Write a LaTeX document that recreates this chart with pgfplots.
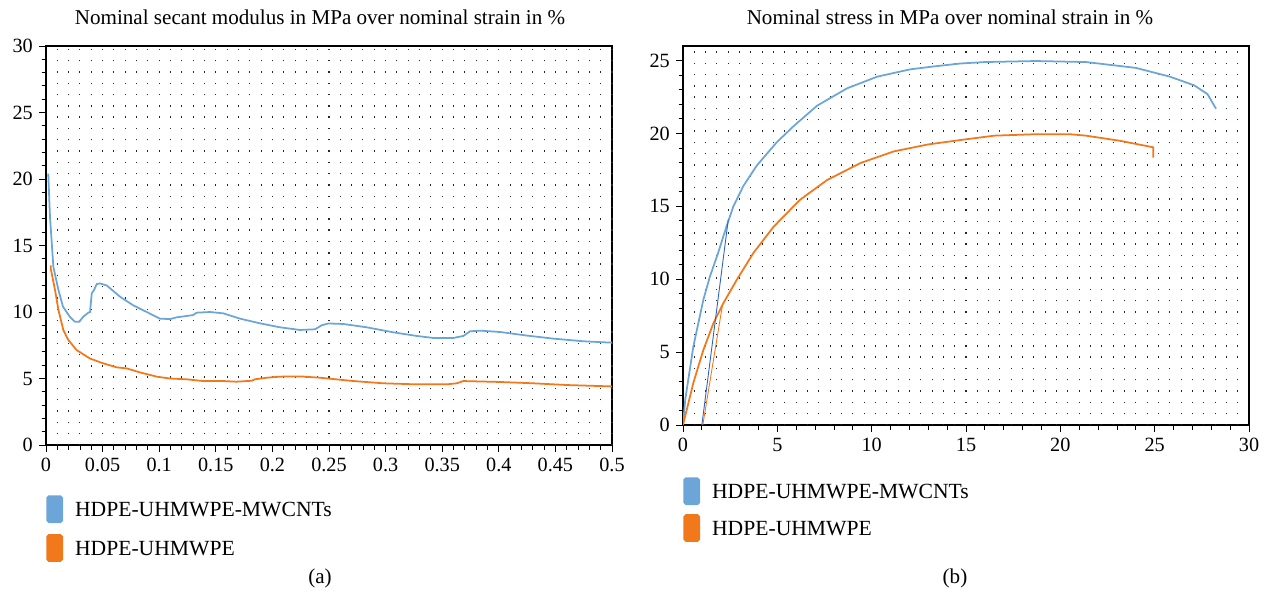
\documentclass[border=0pt]{standalone}
\usepackage{pgfplots}
\pgfplotsset{compat=1.18}
\usepackage{fontspec}
\setmainfont{Liberation Serif}

\definecolor{cntblue}{RGB}{108,166,216}
\definecolor{thinblue}{RGB}{40,100,190}
\definecolor{peorange}{RGB}{242,120,28}

\pgfplotsset{
  panel/.style={
    scale only axis,
    axis line style={black, line width=0.7pt},
    tick style={black, line width=0.5pt},
    tick align=outside,
    tick pos=left,
    major tick length=1.4mm,
    minor tick length=0.9mm,
    /pgf/number format/assume math mode=true,
    tick label style={font=\fontsize{11.5}{13}\selectfont},
    extra x tick labels={},
    extra x tick style={grid=major, major tick length=0pt,
      major grid style={black!85, line width=0.6pt, dash pattern=on 0.8pt off 1.98mm, dash phase=0.4pt}},
    legend cell align=left,
    legend image code/.code={\fill[##1, rounded corners=1pt] (0mm,-2.6mm) rectangle (3mm,2.6mm);
      \path (5.4mm,0);},
    legend style={draw=none, fill=none, inner sep=0pt, anchor=north west, column sep=0pt,
      font=\fontsize{12.3}{14}\selectfont, nodes={inner sep=0pt, text depth=0pt}},
  },
}

\begin{document}
\begin{tikzpicture}
\useasboundingbox (0,0) rectangle (254mm,-119.4mm);

% (a) secant modulus
\begin{axis}[panel,
  at={(9.2mm,-89mm)}, anchor=south west,
  width=113.2mm, height=79.8mm,
  xmin=0, xmax=0.5, ymin=0, ymax=30,
  xtick={0,0.05,...,0.5}, ytick={0,5,...,30},
  minor x tick num=4, minor y tick num=4,
  extra x ticks={0.01,0.02,...,0.495},
  scaled x ticks=false,
  xticklabel style={/pgf/number format/fixed, /pgf/number format/precision=2},
  legend style={at={(axis description cs:0,0)}, yshift=-10mm, row sep=2.2mm},
]
\addplot[cntblue, line width=1pt] coordinates {
(0.002,20.4) (0.0035,17.2) (0.0065,13.4) (0.011,11.65) (0.015,10.4) (0.021,9.65)
(0.0256,9.27) (0.0294,9.27) (0.033,9.65) (0.0374,9.95) (0.0389,10.0) (0.0404,11.4)
(0.0424,11.65) (0.0448,12.1) (0.0477,12.15) (0.0536,12.0) (0.0654,11.15) (0.0771,10.5)
(0.089,10.0) (0.1007,9.5) (0.1095,9.47) (0.1155,9.6) (0.130,9.77) (0.133,9.95)
(0.145,10.0) (0.1566,9.9) (0.1714,9.5) (0.189,9.15) (0.2067,8.85) (0.2244,8.65)
(0.2376,8.7) (0.2435,9.0) (0.2494,9.14) (0.2627,9.1) (0.2833,8.85) (0.307,8.47)
(0.3275,8.2) (0.342,8.05) (0.36,8.05) (0.3687,8.2) (0.3746,8.55) (0.3834,8.6)
(0.401,8.5) (0.4246,8.23) (0.448,8.0) (0.4747,7.8) (0.4982,7.7) (0.5,7.7)};
\addlegendentry{HDPE-UHMWPE-MWCNTs}
\addplot[peorange, line width=1pt] coordinates {
(0.0041,13.5) (0.0041,13.3) (0.008,11.65) (0.011,10.15) (0.0153,8.65) (0.0197,7.9)
(0.027,7.14) (0.0389,6.5) (0.0506,6.14) (0.0624,5.84) (0.0713,5.76) (0.083,5.46)
(0.0978,5.14) (0.1095,5.0) (0.1243,4.94) (0.139,4.81) (0.1566,4.81) (0.168,4.76)
(0.1817,4.83) (0.1846,4.94) (0.195,5.06) (0.2067,5.14) (0.2244,5.16) (0.242,5.06)
(0.2538,4.96) (0.2715,4.81) (0.298,4.64) (0.3275,4.56) (0.354,4.56) (0.3628,4.64)
(0.3687,4.81) (0.401,4.74) (0.4305,4.64) (0.46,4.51) (0.4982,4.41) (0.5,4.4)};
\addlegendentry{HDPE-UHMWPE}
\end{axis}

% (b) stress-strain
\begin{axis}[panel,
  at={(136.6mm,-85mm)}, anchor=south west,
  width=113.2mm, height=75.8mm,
  xmin=0, xmax=30, ymin=0, ymax=26,
  xtick={0,5,...,30}, ytick={0,5,...,25},
  minor x tick num=4, minor y tick num=4,
  extra x ticks={0.6,1.2,...,29.5},
  legend style={at={(axis description cs:0,0)}, yshift=-10.4mm, row sep=1.8mm},
]
\addplot[cntblue, line width=1pt] coordinates {
(0,0) (0.12,1.76) (0.55,5.4) (1.08,8.6) (1.43,10.2) (1.86,11.8) (2.3,13.6) (2.67,15.0)
(3.2,16.4) (3.91,17.8) (4.97,19.4) (5.86,20.5) (7.1,21.9) (8.7,23.1) (10.3,23.9)
(12.05,24.4) (13.3,24.6) (14.7,24.8) (16.0,24.9) (18.7,24.97) (21.36,24.9) (24.0,24.5)
(25.8,23.9) (27.1,23.3) (27.8,22.7) (28.25,21.7)};
\addlegendentry{HDPE-UHMWPE-MWCNTs}
\addplot[peorange, line width=1pt] coordinates {
(0,0) (0.55,2.9) (1.08,5.15) (1.61,6.98) (2.14,8.36) (2.85,9.96) (3.73,11.8) (4.8,13.6)
(6.2,15.45) (7.63,16.8) (9.4,17.97) (11.17,18.77) (13.0,19.25) (14.7,19.55) (16.5,19.85)
(18.7,19.95) (20.5,19.95) (21.36,19.85) (23.15,19.5) (24.93,19.05) (24.93,18.35)};
\addlegendentry{HDPE-UHMWPE}
\addplot[thinblue, line width=0.5pt, forget plot] coordinates {(1.0,0) (2.4,14.1)};
\addplot[peorange, line width=0.5pt, forget plot] coordinates {(1.05,0) (2.1,8.3)};
\end{axis}

\begin{scope}[every node/.style={font=\fontsize{12}{14}\selectfont}]
\node at (64mm,-3.4mm) {Nominal secant modulus in MPa over nominal strain in \%};
\node at (190mm,-3.4mm) {Nominal stress in MPa over nominal strain in \%};
\node at (64mm,-115.6mm) {(a)};
\node at (191mm,-115.6mm) {(b)};
\end{scope}
\end{tikzpicture}
\end{document}
